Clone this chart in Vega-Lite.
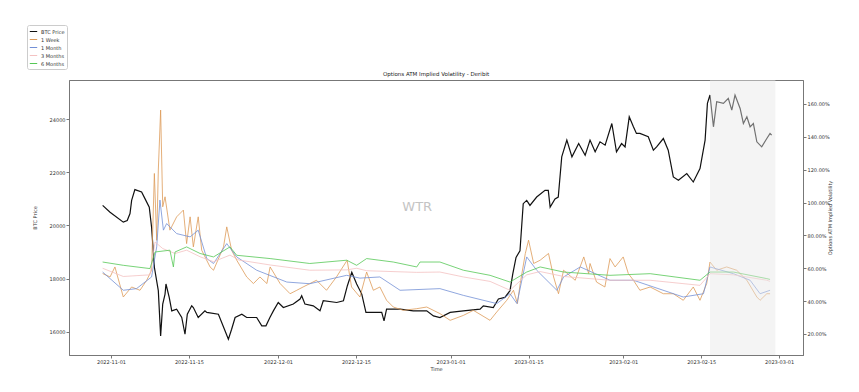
{
  "$schema": "https://vega.github.io/schema/vega-lite/v6.json",
  "width": 734,
  "height": 275,
  "autosize": {"type": "none"},
  "padding": {"left": 69, "top": 80, "right": 56, "bottom": 37},
  "background": "white",
  "config": {
    "font": "DejaVu Sans",
    "view": {"stroke": "#777", "strokeWidth": 1},
    "axis": {"labelFont": "DejaVu Sans", "labelFontSize": 5, "titleFont": "DejaVu Sans", "titleFontSize": 5, "titleFontWeight": "normal", "domainColor": "#777", "tickColor": "#777", "tickSize": 3, "labelColor": "#333", "titleColor": "#333", "grid": false, "labelPadding": 1},
    "legend": {"orient": "none", "legendX": -42, "legendY": -55, "labelFont": "DejaVu Sans", "labelFontSize": 5, "labelColor": "#333", "symbolType": "stroke", "symbolSize": 55, "symbolStrokeWidth": 1, "rowPadding": 0, "padding": 2, "strokeColor": "#ccc", "cornerRadius": 2, "fillColor": "white", "title": null, "labelOffset": 3},
    "title": {"font": "DejaVu Sans", "fontSize": 5.5, "fontWeight": "normal", "color": "#222", "offset": 3, "frame": "group"}
  },
  "title": {"text": "Options ATM Implied Volatility - Deribit", "frame": "group", "dy": 56},
  "data": {"values": [
    {"t":"2022-10-30T12:00","s":"BTC Price","v":20754},{"t":"2022-10-31T20:00","s":"BTC Price","v":20500},{"t":"2022-11-03T05:00","s":"BTC Price","v":20125},{"t":"2022-11-03T22:00","s":"BTC Price","v":20190},{"t":"2022-11-04T10:00","s":"BTC Price","v":20450},{"t":"2022-11-04T17:00","s":"BTC Price","v":20943},{"t":"2022-11-05T07:00","s":"BTC Price","v":21350},{"t":"2022-11-06T12:00","s":"BTC Price","v":21260},{"t":"2022-11-07T03:00","s":"BTC Price","v":21000},{"t":"2022-11-07T21:00","s":"BTC Price","v":20690},{"t":"2022-11-08T07:00","s":"BTC Price","v":19935},{"t":"2022-11-08T19:00","s":"BTC Price","v":18430},{"t":"2022-11-09T12:00","s":"BTC Price","v":17550},{"t":"2022-11-09T22:00","s":"BTC Price","v":15850},{"t":"2022-11-10T07:00","s":"BTC Price","v":17045},{"t":"2022-11-10T17:00","s":"BTC Price","v":17420},{"t":"2022-11-10T21:00","s":"BTC Price","v":17800},{"t":"2022-11-11T11:00","s":"BTC Price","v":17295},{"t":"2022-11-11T22:00","s":"BTC Price","v":16790},{"t":"2022-11-12T19:00","s":"BTC Price","v":16855},{"t":"2022-11-13T17:00","s":"BTC Price","v":16540},{"t":"2022-11-14T07:00","s":"BTC Price","v":15910},{"t":"2022-11-14T17:00","s":"BTC Price","v":16665},{"t":"2022-11-15T12:00","s":"BTC Price","v":16980},{"t":"2022-11-15T19:00","s":"BTC Price","v":16915},{"t":"2022-11-16T16:00","s":"BTC Price","v":16540},{"t":"2022-11-17T21:00","s":"BTC Price","v":16790},{"t":"2022-11-18T05:00","s":"BTC Price","v":16730},{"t":"2022-11-20T07:00","s":"BTC Price","v":16665},{"t":"2022-11-21T12:00","s":"BTC Price","v":16035},{"t":"2022-11-22T02:00","s":"BTC Price","v":15725},{"t":"2022-11-22T16:00","s":"BTC Price","v":16100},{"t":"2022-11-23T07:00","s":"BTC Price","v":16540},{"t":"2022-11-24T12:00","s":"BTC Price","v":16665},{"t":"2022-11-25T09:00","s":"BTC Price","v":16540},{"t":"2022-11-27T04:00","s":"BTC Price","v":16540},{"t":"2022-11-28T02:00","s":"BTC Price","v":16225},{"t":"2022-11-28T20:00","s":"BTC Price","v":16225},{"t":"2022-11-29T13:00","s":"BTC Price","v":16540},{"t":"2022-11-30T04:00","s":"BTC Price","v":16790},{"t":"2022-12-01T01:00","s":"BTC Price","v":17105},{"t":"2022-12-01T23:00","s":"BTC Price","v":16915},{"t":"2022-12-03T18:00","s":"BTC Price","v":17045},{"t":"2022-12-04T23:00","s":"BTC Price","v":17235},{"t":"2022-12-05T06:00","s":"BTC Price","v":17360},{"t":"2022-12-05T20:00","s":"BTC Price","v":17045},{"t":"2022-12-07T08:00","s":"BTC Price","v":16980},{"t":"2022-12-08T13:00","s":"BTC Price","v":16790},{"t":"2022-12-09T03:00","s":"BTC Price","v":17170},{"t":"2022-12-11T13:00","s":"BTC Price","v":17105},{"t":"2022-12-12T18:00","s":"BTC Price","v":17170},{"t":"2022-12-13T11:00","s":"BTC Price","v":17735},{"t":"2022-12-14T06:00","s":"BTC Price","v":18240},{"t":"2022-12-15T03:00","s":"BTC Price","v":17800},{"t":"2022-12-16T01:00","s":"BTC Price","v":17420},{"t":"2022-12-16T19:00","s":"BTC Price","v":16730},{"t":"2022-12-18T03:00","s":"BTC Price","v":16730},{"t":"2022-12-19T15:00","s":"BTC Price","v":16730},{"t":"2022-12-20T01:00","s":"BTC Price","v":16415},{"t":"2022-12-20T12:00","s":"BTC Price","v":16855},{"t":"2022-12-22T22:00","s":"BTC Price","v":16855},{"t":"2022-12-25T07:00","s":"BTC Price","v":16790},{"t":"2022-12-27T17:00","s":"BTC Price","v":16790},{"t":"2022-12-28T22:00","s":"BTC Price","v":16600},{"t":"2022-12-30T02:00","s":"BTC Price","v":16540},{"t":"2022-12-31T22:00","s":"BTC Price","v":16730},{"t":"2023-01-03T07:00","s":"BTC Price","v":16790},{"t":"2023-01-06T07:00","s":"BTC Price","v":16855},{"t":"2023-01-06T21:00","s":"BTC Price","v":16980},{"t":"2023-01-08T16:00","s":"BTC Price","v":16915},{"t":"2023-01-09T14:00","s":"BTC Price","v":17235},{"t":"2023-01-10T18:00","s":"BTC Price","v":17295},{"t":"2023-01-11T16:00","s":"BTC Price","v":17550},{"t":"2023-01-12T04:00","s":"BTC Price","v":18180},{"t":"2023-01-12T18:00","s":"BTC Price","v":18800},{"t":"2023-01-13T11:00","s":"BTC Price","v":19050},{"t":"2023-01-14T01:00","s":"BTC Price","v":20820},{"t":"2023-01-14T16:00","s":"BTC Price","v":20945},{"t":"2023-01-15T06:00","s":"BTC Price","v":20755},{"t":"2023-01-16T11:00","s":"BTC Price","v":21070},{"t":"2023-01-17T23:00","s":"BTC Price","v":21320},{"t":"2023-01-18T13:00","s":"BTC Price","v":21320},{"t":"2023-01-18T21:00","s":"BTC Price","v":20690},{"t":"2023-01-19T18:00","s":"BTC Price","v":21000},{"t":"2023-01-20T08:00","s":"BTC Price","v":21070},{"t":"2023-01-20T23:00","s":"BTC Price","v":22580},{"t":"2023-01-21T21:00","s":"BTC Price","v":23210},{"t":"2023-01-22T19:00","s":"BTC Price","v":22580},{"t":"2023-01-24T00:00","s":"BTC Price","v":23080},{"t":"2023-01-25T04:00","s":"BTC Price","v":22640},{"t":"2023-01-26T01:00","s":"BTC Price","v":23210},{"t":"2023-01-26T23:00","s":"BTC Price","v":22770},{"t":"2023-01-27T20:00","s":"BTC Price","v":23145},{"t":"2023-01-28T18:00","s":"BTC Price","v":23020},{"t":"2023-01-29T23:00","s":"BTC Price","v":23835},{"t":"2023-01-30T19:00","s":"BTC Price","v":22770},{"t":"2023-01-31T17:00","s":"BTC Price","v":23080},{"t":"2023-02-01T08:00","s":"BTC Price","v":22955},{"t":"2023-02-02T02:00","s":"BTC Price","v":24085},{"t":"2023-02-02T20:00","s":"BTC Price","v":23710},{"t":"2023-02-03T09:00","s":"BTC Price","v":23460},{"t":"2023-02-04T00:00","s":"BTC Price","v":23460},{"t":"2023-02-05T12:00","s":"BTC Price","v":23335},{"t":"2023-02-06T10:00","s":"BTC Price","v":22830},{"t":"2023-02-07T00:00","s":"BTC Price","v":22955},{"t":"2023-02-08T05:00","s":"BTC Price","v":23270},{"t":"2023-02-09T02:00","s":"BTC Price","v":22830},{"t":"2023-02-10T00:00","s":"BTC Price","v":21825},{"t":"2023-02-10T22:00","s":"BTC Price","v":21700},{"t":"2023-02-12T10:00","s":"BTC Price","v":21950},{"t":"2023-02-13T14:00","s":"BTC Price","v":21635},{"t":"2023-02-14T19:00","s":"BTC Price","v":22140},{"t":"2023-02-15T17:00","s":"BTC Price","v":23210},{"t":"2023-02-16T03:00","s":"BTC Price","v":24590},{"t":"2023-02-16T14:00","s":"BTC Price","v":24905},{"t":"2023-02-17T05:00","s":"BTC Price","v":23710},{"t":"2023-02-17T19:00","s":"BTC Price","v":24655},{"t":"2023-02-19T00:00","s":"BTC Price","v":24590},{"t":"2023-02-19T21:00","s":"BTC Price","v":24780},{"t":"2023-02-20T12:00","s":"BTC Price","v":24340},{"t":"2023-02-21T02:00","s":"BTC Price","v":24905},{"t":"2023-02-22T00:00","s":"BTC Price","v":24400},{"t":"2023-02-22T14:00","s":"BTC Price","v":23835},{"t":"2023-02-23T05:00","s":"BTC Price","v":24085},{"t":"2023-02-23T19:00","s":"BTC Price","v":23710},{"t":"2023-02-24T09:00","s":"BTC Price","v":23835},{"t":"2023-02-25T00:00","s":"BTC Price","v":23145},{"t":"2023-02-25T21:00","s":"BTC Price","v":22955},{"t":"2023-02-26T19:00","s":"BTC Price","v":23270},{"t":"2023-02-27T09:00","s":"BTC Price","v":23460},{"t":"2023-02-27T16:00","s":"BTC Price","v":23400},

    {"t":"2022-10-30T12:00","s":"1 Week","v":0.568},{"t":"2022-10-31T20:00","s":"1 Week","v":0.547},{"t":"2022-11-01T17:00","s":"1 Week","v":0.608},{"t":"2022-11-03T05:00","s":"1 Week","v":0.425},{"t":"2022-11-04T17:00","s":"1 Week","v":0.486},{"t":"2022-11-06T05:00","s":"1 Week","v":0.466},{"t":"2022-11-07T10:00","s":"1 Week","v":0.527},{"t":"2022-11-08T07:00","s":"1 Week","v":0.588},{"t":"2022-11-08T19:00","s":"1 Week","v":1.177},{"t":"2022-11-09T05:00","s":"1 Week","v":0.77},{"t":"2022-11-09T12:00","s":"1 Week","v":1.198},{"t":"2022-11-09T22:00","s":"1 Week","v":1.563},{"t":"2022-11-10T07:00","s":"1 Week","v":0.974},{"t":"2022-11-10T17:00","s":"1 Week","v":1.035},{"t":"2022-11-11T14:00","s":"1 Week","v":0.832},{"t":"2022-11-12T19:00","s":"1 Week","v":0.913},{"t":"2022-11-14T00:00","s":"1 Week","v":0.954},{"t":"2022-11-14T14:00","s":"1 Week","v":0.75},{"t":"2022-11-15T05:00","s":"1 Week","v":0.913},{"t":"2022-11-15T19:00","s":"1 Week","v":0.73},{"t":"2022-11-16T16:00","s":"1 Week","v":0.913},{"t":"2022-11-17T07:00","s":"1 Week","v":0.71},{"t":"2022-11-18T19:00","s":"1 Week","v":0.608},{"t":"2022-11-19T10:00","s":"1 Week","v":0.588},{"t":"2022-11-21T05:00","s":"1 Week","v":0.73},{"t":"2022-11-21T19:00","s":"1 Week","v":0.852},{"t":"2022-11-22T16:00","s":"1 Week","v":0.71},{"t":"2022-11-23T14:00","s":"1 Week","v":0.649},{"t":"2022-11-25T09:00","s":"1 Week","v":0.547},{"t":"2022-11-26T14:00","s":"1 Week","v":0.507},{"t":"2022-11-27T18:00","s":"1 Week","v":0.547},{"t":"2022-11-29T00:00","s":"1 Week","v":0.507},{"t":"2022-11-29T14:00","s":"1 Week","v":0.608},{"t":"2022-12-01T09:00","s":"1 Week","v":0.507},{"t":"2022-12-03T04:00","s":"1 Week","v":0.445},{"t":"2022-12-04T09:00","s":"1 Week","v":0.466},{"t":"2022-12-05T12:00","s":"1 Week","v":0.486},{"t":"2022-12-07T22:00","s":"1 Week","v":0.527},{"t":"2022-12-09T17:00","s":"1 Week","v":0.466},{"t":"2022-12-11T12:00","s":"1 Week","v":0.547},{"t":"2022-12-13T10:00","s":"1 Week","v":0.649},{"t":"2022-12-14T05:00","s":"1 Week","v":0.486},{"t":"2022-12-15T17:00","s":"1 Week","v":0.425},{"t":"2022-12-16T22:00","s":"1 Week","v":0.577},{"t":"2022-12-18T03:00","s":"1 Week","v":0.466},{"t":"2022-12-19T07:00","s":"1 Week","v":0.486},{"t":"2022-12-20T12:00","s":"1 Week","v":0.405},{"t":"2022-12-21T17:00","s":"1 Week","v":0.364},{"t":"2022-12-23T12:00","s":"1 Week","v":0.344},{"t":"2022-12-25T22:00","s":"1 Week","v":0.354},{"t":"2022-12-27T17:00","s":"1 Week","v":0.364},{"t":"2022-12-30T02:00","s":"1 Week","v":0.324},{"t":"2022-12-31T22:00","s":"1 Week","v":0.283},{"t":"2023-01-03T07:00","s":"1 Week","v":0.313},{"t":"2023-01-05T02:00","s":"1 Week","v":0.344},{"t":"2023-01-08T02:00","s":"1 Week","v":0.283},{"t":"2023-01-09T07:00","s":"1 Week","v":0.334},{"t":"2023-01-11T02:00","s":"1 Week","v":0.405},{"t":"2023-01-12T07:00","s":"1 Week","v":0.466},{"t":"2023-01-13T00:00","s":"1 Week","v":0.385},{"t":"2023-01-13T12:00","s":"1 Week","v":0.507},{"t":"2023-01-14T10:00","s":"1 Week","v":0.69},{"t":"2023-01-15T00:00","s":"1 Week","v":0.771},{"t":"2023-01-15T22:00","s":"1 Week","v":0.629},{"t":"2023-01-17T02:00","s":"1 Week","v":0.649},{"t":"2023-01-18T14:00","s":"1 Week","v":0.69},{"t":"2023-01-19T12:00","s":"1 Week","v":0.547},{"t":"2023-01-20T09:00","s":"1 Week","v":0.445},{"t":"2023-01-21T07:00","s":"1 Week","v":0.588},{"t":"2023-01-23T09:00","s":"1 Week","v":0.527},{"t":"2023-01-24T22:00","s":"1 Week","v":0.669},{"t":"2023-01-25T19:00","s":"1 Week","v":0.568},{"t":"2023-01-26T01:00","s":"1 Week","v":0.629},{"t":"2023-01-27T05:00","s":"1 Week","v":0.516},{"t":"2023-01-28T17:00","s":"1 Week","v":0.486},{"t":"2023-01-29T15:00","s":"1 Week","v":0.659},{"t":"2023-01-30T13:00","s":"1 Week","v":0.608},{"t":"2023-02-01T00:00","s":"1 Week","v":0.669},{"t":"2023-02-01T22:00","s":"1 Week","v":0.568},{"t":"2023-02-02T20:00","s":"1 Week","v":0.527},{"t":"2023-02-04T00:00","s":"1 Week","v":0.466},{"t":"2023-02-05T20:00","s":"1 Week","v":0.486},{"t":"2023-02-08T05:00","s":"1 Week","v":0.445},{"t":"2023-02-10T00:00","s":"1 Week","v":0.445},{"t":"2023-02-11T19:00","s":"1 Week","v":0.405},{"t":"2023-02-13T14:00","s":"1 Week","v":0.486},{"t":"2023-02-14T19:00","s":"1 Week","v":0.405},{"t":"2023-02-16T00:00","s":"1 Week","v":0.507},{"t":"2023-02-16T14:00","s":"1 Week","v":0.638},{"t":"2023-02-17T19:00","s":"1 Week","v":0.588},{"t":"2023-02-19T14:00","s":"1 Week","v":0.608},{"t":"2023-02-21T09:00","s":"1 Week","v":0.588},{"t":"2023-02-23T05:00","s":"1 Week","v":0.527},{"t":"2023-02-25T00:00","s":"1 Week","v":0.425},{"t":"2023-02-25T14:00","s":"1 Week","v":0.405},{"t":"2023-02-26T19:00","s":"1 Week","v":0.445},{"t":"2023-02-27T09:00","s":"1 Week","v":0.445},

    {"t":"2022-10-30T12:00","s":"1 Month","v":0.577},{"t":"2022-11-03T05:00","s":"1 Month","v":0.466},{"t":"2022-11-05T14:00","s":"1 Month","v":0.476},{"t":"2022-11-08T07:00","s":"1 Month","v":0.547},{"t":"2022-11-09T05:00","s":"1 Month","v":0.73},{"t":"2022-11-09T19:00","s":"1 Month","v":1.015},{"t":"2022-11-10T10:00","s":"1 Month","v":0.832},{"t":"2022-11-11T00:00","s":"1 Month","v":0.872},{"t":"2022-11-12T19:00","s":"1 Month","v":0.811},{"t":"2022-11-15T05:00","s":"1 Month","v":0.791},{"t":"2022-11-16T16:00","s":"1 Month","v":0.832},{"t":"2022-11-18T05:00","s":"1 Month","v":0.659},{"t":"2022-11-19T10:00","s":"1 Month","v":0.629},{"t":"2022-11-21T19:00","s":"1 Month","v":0.75},{"t":"2022-11-23T14:00","s":"1 Month","v":0.669},{"t":"2022-11-27T04:00","s":"1 Month","v":0.588},{"t":"2022-12-02T14:00","s":"1 Month","v":0.516},{"t":"2022-12-06T17:00","s":"1 Month","v":0.506},{"t":"2022-12-13T08:00","s":"1 Month","v":0.557},{"t":"2022-12-15T17:00","s":"1 Month","v":0.54},{"t":"2022-12-19T07:00","s":"1 Month","v":0.547},{"t":"2022-12-22T22:00","s":"1 Month","v":0.466},{"t":"2022-12-30T02:00","s":"1 Month","v":0.476},{"t":"2023-01-03T07:00","s":"1 Month","v":0.435},{"t":"2023-01-09T07:00","s":"1 Month","v":0.385},{"t":"2023-01-11T16:00","s":"1 Month","v":0.445},{"t":"2023-01-12T22:00","s":"1 Month","v":0.385},{"t":"2023-01-14T16:00","s":"1 Month","v":0.669},{"t":"2023-01-16T11:00","s":"1 Month","v":0.588},{"t":"2023-01-20T02:00","s":"1 Month","v":0.466},{"t":"2023-01-21T07:00","s":"1 Month","v":0.547},{"t":"2023-01-24T07:00","s":"1 Month","v":0.608},{"t":"2023-01-29T15:00","s":"1 Month","v":0.527},{"t":"2023-02-02T20:00","s":"1 Month","v":0.527},{"t":"2023-02-11T19:00","s":"1 Month","v":0.425},{"t":"2023-02-15T10:00","s":"1 Month","v":0.445},{"t":"2023-02-16T14:00","s":"1 Month","v":0.608},{"t":"2023-02-20T19:00","s":"1 Month","v":0.567},{"t":"2023-02-23T19:00","s":"1 Month","v":0.527},{"t":"2023-02-25T14:00","s":"1 Month","v":0.445},{"t":"2023-02-27T09:00","s":"1 Month","v":0.466},

    {"t":"2022-10-30T12:00","s":"3 Months","v":0.60},{"t":"2022-11-03T05:00","s":"3 Months","v":0.55},{"t":"2022-11-08T00:00","s":"3 Months","v":0.56},{"t":"2022-11-08T22:00","s":"3 Months","v":0.76},{"t":"2022-11-10T07:00","s":"3 Months","v":0.72},{"t":"2022-11-12T12:00","s":"3 Months","v":0.69},{"t":"2022-11-14T14:00","s":"3 Months","v":0.71},{"t":"2022-11-17T00:00","s":"3 Months","v":0.67},{"t":"2022-11-19T10:00","s":"3 Months","v":0.64},{"t":"2022-11-22T09:00","s":"3 Months","v":0.68},{"t":"2022-11-24T00:00","s":"3 Months","v":0.65},{"t":"2022-11-29T14:00","s":"3 Months","v":0.62},{"t":"2022-12-06T17:00","s":"3 Months","v":0.588},{"t":"2022-12-13T08:00","s":"3 Months","v":0.59},{"t":"2022-12-15T03:00","s":"3 Months","v":0.60},{"t":"2022-12-16T22:00","s":"3 Months","v":0.585},{"t":"2022-12-25T22:00","s":"3 Months","v":0.575},{"t":"2022-12-30T02:00","s":"3 Months","v":0.577},{"t":"2023-01-03T07:00","s":"3 Months","v":0.547},{"t":"2023-01-08T02:00","s":"3 Months","v":0.52},{"t":"2023-01-11T16:00","s":"3 Months","v":0.466},{"t":"2023-01-14T16:00","s":"3 Months","v":0.56},{"t":"2023-01-17T02:00","s":"3 Months","v":0.58},{"t":"2023-01-21T07:00","s":"3 Months","v":0.55},{"t":"2023-01-29T15:00","s":"3 Months","v":0.527},{"t":"2023-02-05T20:00","s":"3 Months","v":0.527},{"t":"2023-02-14T19:00","s":"3 Months","v":0.496},{"t":"2023-02-16T14:00","s":"3 Months","v":0.567},{"t":"2023-02-20T19:00","s":"3 Months","v":0.56},{"t":"2023-02-26T19:00","s":"3 Months","v":0.527},{"t":"2023-02-27T09:00","s":"3 Months","v":0.52},

    {"t":"2022-10-30T12:00","s":"6 Months","v":0.638},{"t":"2022-11-03T05:00","s":"6 Months","v":0.618},{"t":"2022-11-08T00:00","s":"6 Months","v":0.598},{"t":"2022-11-08T22:00","s":"6 Months","v":0.699},{"t":"2022-11-11T14:00","s":"6 Months","v":0.71},{"t":"2022-11-12T05:00","s":"6 Months","v":0.608},{"t":"2022-11-12T12:00","s":"6 Months","v":0.699},{"t":"2022-11-14T14:00","s":"6 Months","v":0.73},{"t":"2022-11-17T00:00","s":"6 Months","v":0.69},{"t":"2022-11-19T10:00","s":"6 Months","v":0.669},{"t":"2022-11-22T09:00","s":"6 Months","v":0.73},{"t":"2022-11-23T14:00","s":"6 Months","v":0.679},{"t":"2022-11-29T14:00","s":"6 Months","v":0.659},{"t":"2022-12-06T17:00","s":"6 Months","v":0.629},{"t":"2022-12-13T08:00","s":"6 Months","v":0.649},{"t":"2022-12-15T03:00","s":"6 Months","v":0.618},{"t":"2022-12-16T22:00","s":"6 Months","v":0.659},{"t":"2022-12-21T17:00","s":"6 Months","v":0.638},{"t":"2022-12-25T22:00","s":"6 Months","v":0.608},{"t":"2022-12-26T12:00","s":"6 Months","v":0.638},{"t":"2022-12-30T02:00","s":"6 Months","v":0.638},{"t":"2023-01-03T07:00","s":"6 Months","v":0.588},{"t":"2023-01-08T02:00","s":"6 Months","v":0.557},{"t":"2023-01-11T16:00","s":"6 Months","v":0.516},{"t":"2023-01-14T16:00","s":"6 Months","v":0.577},{"t":"2023-01-17T02:00","s":"6 Months","v":0.608},{"t":"2023-01-21T07:00","s":"6 Months","v":0.577},{"t":"2023-01-29T15:00","s":"6 Months","v":0.557},{"t":"2023-02-05T20:00","s":"6 Months","v":0.567},{"t":"2023-02-14T19:00","s":"6 Months","v":0.527},{"t":"2023-02-16T14:00","s":"6 Months","v":0.577},{"t":"2023-02-20T19:00","s":"6 Months","v":0.577},{"t":"2023-02-26T19:00","s":"6 Months","v":0.537},{"t":"2023-02-27T09:00","s":"6 Months","v":0.532}
  ]},
  "layer": [
    {
      "data": {"values": [{"t": "2022-12-26T00:00", "v": 20680, "label": "WTR"}]},
      "mark": {"type": "text", "fontSize": 13, "color": "#c4c4c4", "font": "DejaVu Sans"},
      "encoding": {
        "x": {"field": "t", "type": "temporal"},
        "y": {"field": "v", "type": "quantitative", "scale": {"domain": [15130, 25470]}, "axis": null},
        "text": {"field": "label"}
      }
    },
    {
      "transform": [{"filter": "datum.s === 'BTC Price'"}],
      "mark": {"type": "line", "strokeWidth": 1.2},
      "encoding": {
        "x": {"field": "t", "type": "temporal", "title": "Time",
          "scale": {"domain": [{"year": 2022, "month": 10, "date": 24, "hours": 11}, {"year": 2023, "month": 3, "date": 5, "hours": 7}]},
          "axis": {"format": "%Y-%m-%d", "titlePadding": 2, "values": [
            {"year": 2022, "month": 11, "date": 1}, {"year": 2022, "month": 11, "date": 15}, {"year": 2022, "month": 12, "date": 1}, {"year": 2022, "month": 12, "date": 15}, {"year": 2023, "month": 1, "date": 1}, {"year": 2023, "month": 1, "date": 15}, {"year": 2023, "month": 2, "date": 1}, {"year": 2023, "month": 2, "date": 15}, {"year": 2023, "month": 3, "date": 1}]}},
        "y": {"field": "v", "type": "quantitative", "title": "BTC Price",
          "scale": {"domain": [15130, 25470], "nice": false, "zero": false},
          "axis": {"values": [16000, 18000, 20000, 22000, 24000], "format": "d", "orient": "left", "titlePadding": 12}},
        "color": {"field": "s", "type": "nominal",
          "scale": {"domain": ["BTC Price", "1 Week", "1 Month", "3 Months", "6 Months"], "range": ["#111111", "#dd9a58", "#7390d6", "#f4c2c2", "#55c855"]},
          "legend": {}}
      }
    },
    {
      "transform": [{"filter": "datum.s !== 'BTC Price'"}],
      "mark": {"type": "line", "strokeWidth": 0.8},
      "encoding": {
        "x": {"field": "t", "type": "temporal"},
        "y": {"field": "v", "type": "quantitative", "title": "Options ATM Implied Volatility",
          "scale": {"domain": [0.072, 1.746], "nice": false, "zero": false},
          "axis": {"values": [0.2, 0.4, 0.6, 0.8, 1.0, 1.2, 1.4, 1.6], "format": ".2%", "orient": "right", "titleAngle": 270, "titlePadding": 3}},
        "color": {"field": "s", "type": "nominal"}
      }
    },
    {
      "data": {"values": [{"a": "2023-02-16T14:00", "b": "2023-02-28T08:00"}]},
      "mark": {"type": "rect", "color": "#e6e6e6", "opacity": 0.45},
      "encoding": {
        "x": {"field": "a", "type": "temporal"},
        "x2": {"field": "b"}
      }
    }
  ],
  "resolve": {"scale": {"y": "independent"}}
}
